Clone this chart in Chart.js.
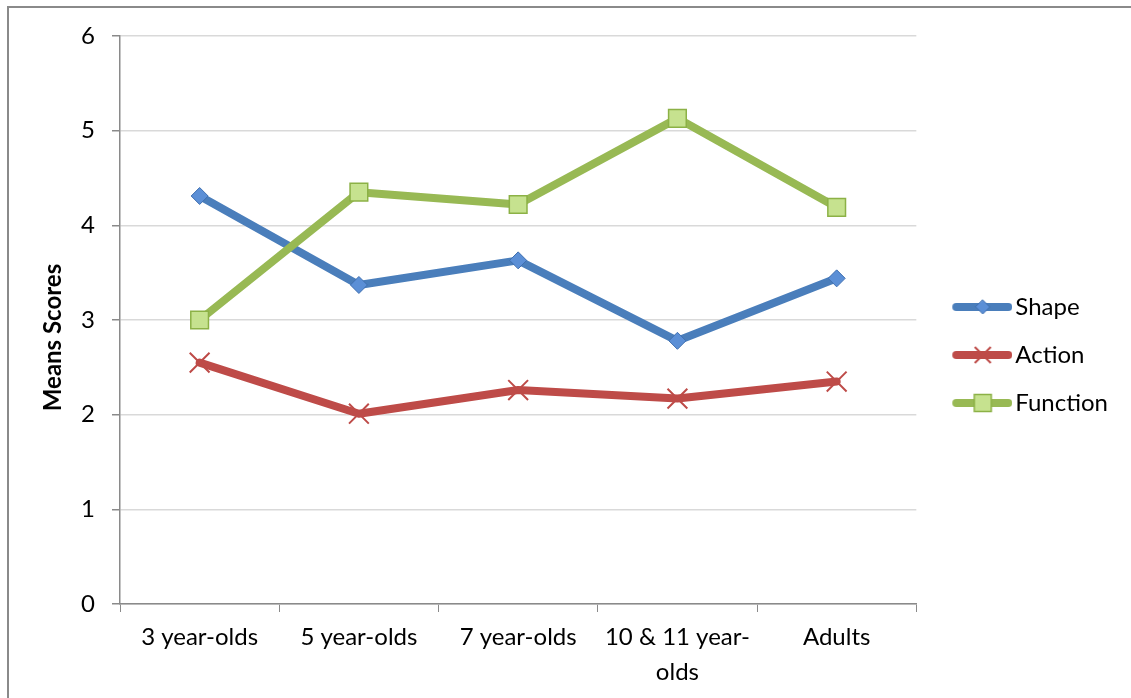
<!DOCTYPE html>
<html>
<head>
<meta charset="utf-8">
<script src="https://cdn.jsdelivr.net/npm/chart.js@4/dist/chart.umd.min.js"></script>
<style>
  html, body { margin: 0; padding: 0; background: #fff; overflow: hidden; }
  #frame {
    position: absolute; left: 7px; top: 6px;
    width: 1150px; height: 720px;
    border: 2px solid #8a8a8a;
  }
  #box { position: absolute; left: 0; top: 0; width: 1131px; height: 698px; }
</style>
</head>
<body>
<div id="frame"></div>
<div id="box"><canvas id="chart"></canvas></div>
<script>
// ============================================
// DATA
// ============================================
const groups = ['3 year-olds', '5 year-olds', '7 year-olds', ['10 & 11 year-', 'olds'], 'Adults'];
const shapeScores = [4.31, 3.37, 3.63, 2.78, 3.44];
const actionScores = [2.55, 2.01, 2.26, 2.17, 2.35];
const functionScores = [3.00, 4.35, 4.22, 5.13, 4.19];
const yTicks = [0, 1, 2, 3, 4, 5, 6];

// Colours
const BLUE = '#4a7ebb';
const RED = '#be4b48';
const GREEN = '#98b954';
const AXIS = '#8a8a8a';
const GRID = '#d9d9d9';
const FONT = 'Lato, Carlito, Calibri, sans-serif';
const LINE_W = 8;

// ============================================
// LEGEND ICONS (line with marker in the middle)
// ============================================
function legendIcon(color, marker) {
    const c = document.createElement('canvas');
    c.width = 81;
    c.height = 30;
    const g = c.getContext('2d');
    g.lineCap = 'round';
    g.strokeStyle = color;
    g.lineWidth = LINE_W;
    g.beginPath();
    g.moveTo(25, 15);
    g.lineTo(77, 15);
    g.stroke();

    const cx = 51.5, cy = 15;
    if (marker === 'diamond') {
        g.fillStyle = '#5b8fd6';
        g.strokeStyle = '#3f6fb0';
        g.lineWidth = 1;
        g.beginPath();
        g.moveTo(cx, cy - 7);
        g.lineTo(cx + 7, cy);
        g.lineTo(cx, cy + 7);
        g.lineTo(cx - 7, cy);
        g.closePath();
        g.fill();
        g.stroke();
    } else if (marker === 'cross') {
        g.strokeStyle = RED;
        g.lineWidth = 2;
        g.lineCap = 'butt';
        g.beginPath();
        g.moveTo(cx - 8, cy - 8);
        g.lineTo(cx + 8, cy + 8);
        g.moveTo(cx + 8, cy - 8);
        g.lineTo(cx - 8, cy + 8);
        g.stroke();
    } else {
        g.fillStyle = '#c6e28f';
        g.strokeStyle = '#8cb146';
        g.lineWidth = 1.5;
        g.fillRect(cx - 8.5, cy - 8.5, 17, 17);
        g.strokeRect(cx - 8.5, cy - 8.5, 17, 17);
    }
    return c;
}

const legendIcons = [
    legendIcon(BLUE, 'diamond'),
    legendIcon(RED, 'cross'),
    legendIcon(GREEN, 'square')
];

// ============================================
// CHART
// ============================================
const ctx = document.getElementById('chart');

const chart = new Chart(ctx.getContext('2d'), {
    type: 'line',
    data: {
        labels: groups,
        datasets: [
            {
                label: 'Shape',
                data: shapeScores,
                borderColor: BLUE,
                borderWidth: LINE_W,
                borderJoinStyle: 'round',
                borderCapStyle: 'round',
                pointStyle: 'rectRot',
                pointRadius: 8.5,
                pointBackgroundColor: '#5b8fd6',
                pointBorderColor: '#3f6fb0',
                pointBorderWidth: 1,
                order: 3
            },
            {
                label: 'Action',
                data: actionScores,
                borderColor: RED,
                borderWidth: LINE_W,
                borderJoinStyle: 'round',
                borderCapStyle: 'round',
                pointStyle: 'crossRot',
                pointRadius: 14,
                pointBorderColor: RED,
                pointBorderWidth: 2,
                order: 2
            },
            {
                label: 'Function',
                data: functionScores,
                borderColor: GREEN,
                borderWidth: LINE_W,
                borderJoinStyle: 'round',
                borderCapStyle: 'round',
                pointStyle: 'rect',
                pointRadius: 12.5,
                pointBackgroundColor: '#c6e28f',
                pointBorderColor: '#8cb146',
                pointBorderWidth: 1.5,
                order: 1
            }
        ]
    },
    options: {
        responsive: true,
        maintainAspectRatio: false,
        animation: false,
        layout: {
            padding: { left: 0, top: 36, right: 13, bottom: 0 }
        },
        plugins: {
            tooltip: { enabled: false },
            legend: {
                position: 'right',
                fullSize: false,
                title: {
                    display: true,
                    text: ' ',
                    padding: 23,
                    font: { family: FONT, size: 20 }
                },
                labels: {
                    usePointStyle: true,
                    pointStyleWidth: 63,
                    padding: 24,
                    color: '#000',
                    font: { family: FONT, size: 24 },
                    generateLabels: (c) => c.data.datasets.map((ds, i) => ({
                        text: ds.label,
                        pointStyle: legendIcons[i],
                        fillStyle: 'transparent',
                        strokeStyle: 'transparent',
                        lineWidth: 0,
                        hidden: false,
                        datasetIndex: i,
                        fontColor: '#000'
                    }))
                }
            }
        },
        scales: {
            x: {
                offset: true,
                grid: {
                    offset: true,
                    drawOnChartArea: false,
                    drawTicks: true,
                    tickLength: 8,
                    tickColor: AXIS
                },
                border: { color: AXIS, width: 1.5 },
                ticks: {
                    color: '#000',
                    padding: 8,
                    maxRotation: 0,
                    autoSkip: false,
                    font: { family: FONT, size: 24, lineHeight: 1.45 }
                },
                afterFit: (scale) => { scale.height = 94; }
            },
            y: {
                min: 0,
                max: 6,
                afterBuildTicks: (scale) => {
                    scale.ticks = yTicks.map(v => ({ value: v }));
                },
                grid: {
                    color: GRID,
                    lineWidth: 1.5,
                    tickLength: 8,
                    tickColor: AXIS
                },
                border: { color: AXIS, width: 1.5 },
                ticks: {
                    color: '#000',
                    padding: 17,
                    font: { family: FONT, size: 24 }
                },
                title: {
                    display: true,
                    text: 'Means Scores      ',
                    color: '#000',
                    padding: { top: 39, bottom: 0 },
                    font: { family: FONT, size: 24, weight: 'bold' }
                },
                afterFit: (scale) => { scale.width = 120; }
            }
        }
    }
});
</script>
</body>
</html>
